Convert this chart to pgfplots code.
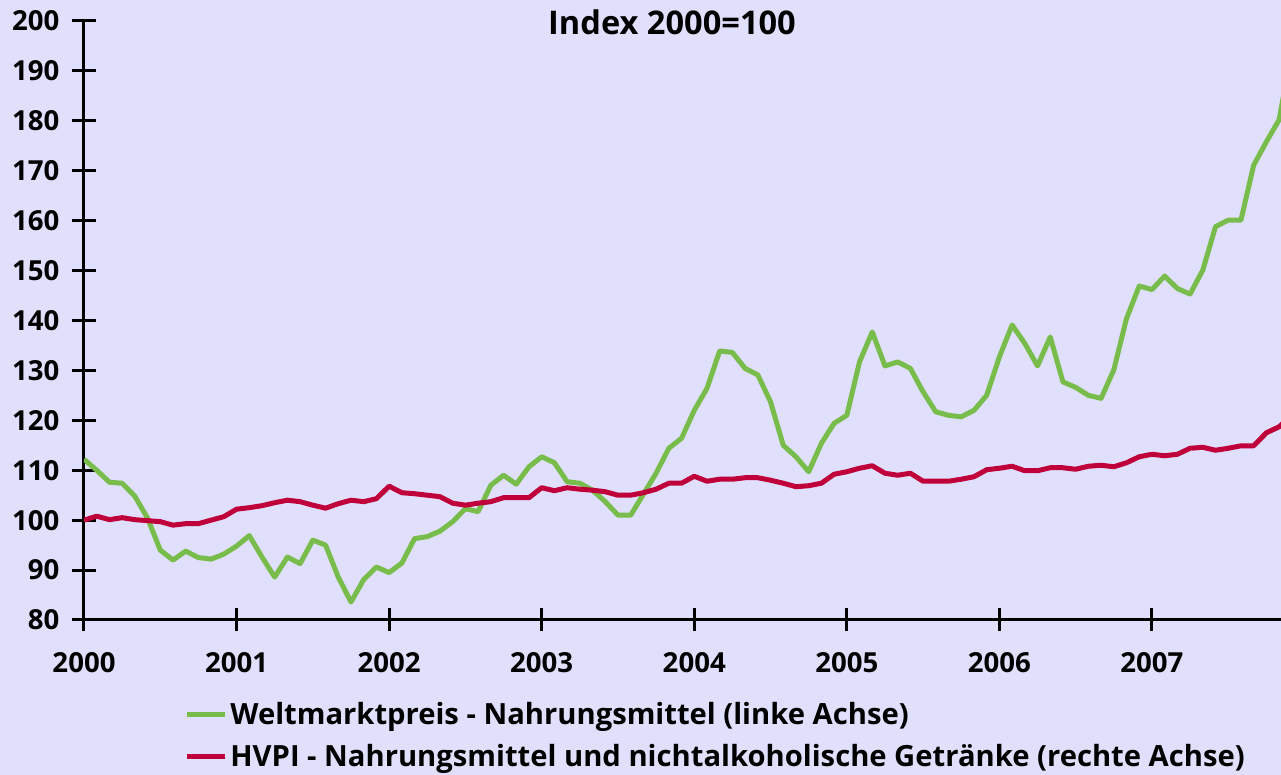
\documentclass[border=0pt]{standalone}
\usepackage{pgfplots}
\pgfplotsset{compat=1.18}
\usepackage{pgfplotstable}
\usepackage{fontspec}
\setmainfont{Open Sans}
\definecolor{bg}{RGB}{224,224,252}
\definecolor{gr}{RGB}{120,188,75}
\definecolor{rd}{RGB}{192,0,58}
\newcommand\ff{\fontsize{13.8pt}{16pt}\selectfont\bfseries}
\newcommand\fl{\fontsize{14.6pt}{17pt}\selectfont\bfseries}
\newcommand\ft{\fontsize{16.3pt}{19pt}\selectfont\bfseries}
\pgfplotstableread{
m v
0 112.2
1 110.0
2 107.6
3 107.4
4 104.8
5 100.4
6 94.0
7 92.0
8 93.8
9 92.5
10 92.2
11 93.2
12 94.8
13 96.9
14 92.6
15 88.6
16 92.6
17 91.3
18 96.0
19 95.0
20 88.6
21 83.6
22 88.1
23 90.6
24 89.5
25 91.4
26 96.3
27 96.7
28 97.8
29 99.7
30 102.3
31 101.7
32 107.0
33 109.0
34 107.2
35 110.7
36 112.7
37 111.5
38 107.7
39 107.4
40 106.0
41 103.7
42 101.0
43 101.0
44 105.2
45 109.4
46 114.4
47 116.4
48 122.0
49 126.4
50 133.9
51 133.6
52 130.4
53 129.1
54 123.7
55 115.0
56 112.7
57 109.7
58 115.4
59 119.4
60 121.0
61 131.7
62 137.7
63 130.9
64 131.7
65 130.4
66 125.7
67 121.7
68 121.0
69 120.7
70 122.0
71 125.0
72 132.7
73 139.1
74 135.4
75 130.9
76 136.7
77 127.7
78 126.6
79 125.0
80 124.4
81 130.1
82 140.4
83 146.9
84 146.2
85 148.9
86 146.4
87 145.3
88 150.1
89 158.8
90 160.1
91 160.1
92 171.1
93 175.8
94 180.2
95 194.0
}\green
\pgfplotstableread{
m v
0 100.0
1 100.8
2 100.1
3 100.5
4 100.1
5 99.9
6 99.7
7 99.0
8 99.3
9 99.3
10 100.0
11 100.7
12 102.2
13 102.5
14 102.9
15 103.5
16 104.0
17 103.7
18 103.0
19 102.4
20 103.3
21 104.0
22 103.7
23 104.3
24 106.8
25 105.5
26 105.3
27 105.0
28 104.7
29 103.4
30 103.0
31 103.4
32 103.7
33 104.5
34 104.5
35 104.5
36 106.5
37 105.9
38 106.5
39 106.2
40 106.0
41 105.7
42 105.0
43 105.0
44 105.5
45 106.2
46 107.4
47 107.4
48 108.8
49 107.8
50 108.2
51 108.2
52 108.5
53 108.5
54 108.0
55 107.4
56 106.7
57 106.9
58 107.4
59 109.2
60 109.7
61 110.4
62 110.9
63 109.4
64 109.0
65 109.4
66 107.8
67 107.8
68 107.8
69 108.2
70 108.7
71 110.1
72 110.4
73 110.8
74 109.9
75 109.9
76 110.5
77 110.5
78 110.2
79 110.8
80 111.0
81 110.7
82 111.5
83 112.7
84 113.2
85 112.9
86 113.2
87 114.4
88 114.6
89 114.0
90 114.4
91 114.9
92 114.9
93 117.5
94 118.7
95 121.0
}\red
\begin{document}
\begin{tikzpicture}
\fill[bg] (-42pt,-77.5pt) rectangle (598.5pt,310pt);
\path[use as bounding box] (-42pt,-77.5pt) rectangle (598.5pt,310pt);
\begin{axis}[
  scale only axis, width=598.5pt, height=299.5pt,
  at={(0,0)}, anchor=south west,
  xmin=0, xmax=94.15, ymin=80, ymax=200,
  axis x line=bottom, axis y line=left,
  axis line style={-, line width=1.5pt},
  every tick/.style={black, line width=1.5pt},
  tick align=center, major tick length=11.5pt,
  xtick={0,12,...,84},
  xticklabels={2000,2001,2002,2003,2004,2005,2006,2007},
  ytick={80,90,...,200},
  /pgf/number format/assume math mode=true,
  tick label style={font=\ff},
  yticklabel style={xshift=-3pt},
  xticklabel style={yshift=-7pt},
  clip=true,
  legend style={at={(axis description cs:0.084,-0.132)}, anchor=north west,
    draw=none, fill=none, inner sep=0pt, font=\fl, row sep=6pt,
    nodes={inner sep=1.2pt}},
  legend cell align=left,
  legend image code/.code={\draw[#1] (0pt,0pt) -- (19pt,0pt);},
]
\addplot[gr, line width=2.5pt, line join=round] table[x=m,y=v] {\green};
\addlegendentry{Weltmarktpreis - Nahrungsmittel (linke Achse)}
\addplot[rd, line width=2.5pt, line join=round] table[x=m,y=v] {\red};
\addlegendentry{HVPI - Nahrungsmittel und nichtalkoholische Getränke (rechte Achse)}
\end{axis}
\node[font=\ft, anchor=center] at (294pt,299pt) {Index 2000=100};
\end{tikzpicture}
\end{document}
